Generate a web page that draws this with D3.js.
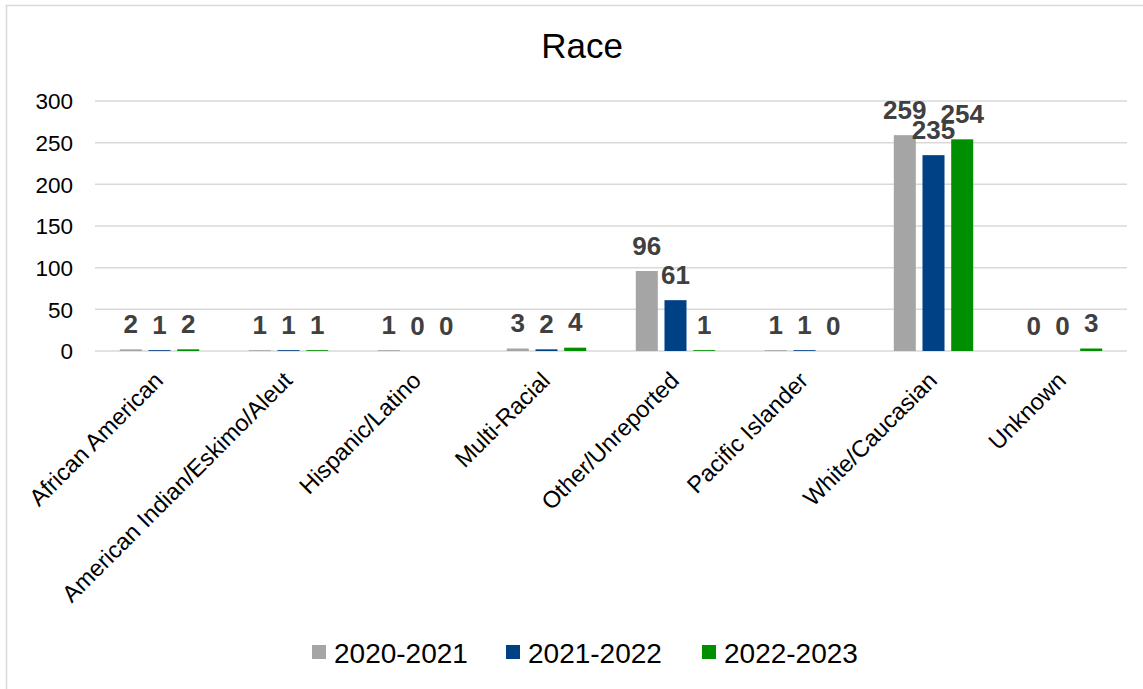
<!DOCTYPE html>
<html>
<head>
<meta charset="utf-8">
<script src="https://cdn.jsdelivr.net/npm/d3@7"></script>
<style>
  body { margin: 0; background: #fff; }
  svg { display: block; font-family: "Liberation Sans", Arial, sans-serif; }
</style>
</head>
<body>
<svg></svg>
<script>
// Chart data
const categories = ["African American", "American Indian/Eskimo/Aleut", "Hispanic/Latino", "Multi-Racial",
  "Other/Unreported", "Pacific Islander", "White/Caucasian", "Unknown"];
const series = ["2020-2021", "2021-2022", "2022-2023"];
const values2020 = [2, 1, 1, 3, 96, 1, 259, 0];
const values2021 = [1, 1, 0, 2, 61, 1, 235, 0];
const values2022 = [2, 1, 0, 4, 1, 0, 254, 3];
const yTicks = [0, 50, 100, 150, 200, 250, 300];
const colors = ["#a5a5a5", "#004185", "#008f00"];

const seriesValues = [values2020, values2021, values2022];

const width = 1143;
const height = 689;

const svg = d3.select("svg")
  .attr("width", width)
  .attr("height", height);

// Chart frame
svg.append("rect")
  .attr("x", 6.5).attr("y", 5.5)
  .attr("width", 1300).attr("height", 900)
  .attr("fill", "none")
  .attr("stroke", "#d9d9d9")
  .attr("stroke-width", 1.5);

// Title
svg.append("text")
  .attr("x", 582).attr("y", 58)
  .attr("text-anchor", "middle")
  .attr("font-size", 35)
  .attr("fill", "#000")
  .text("Race");

// Scales
const x0 = d3.scaleBand()
  .domain(categories)
  .range([95, 1127]);

const x1 = d3.scaleBand()
  .domain(series)
  .range([0, x0.bandwidth()])
  .paddingInner(0.233)
  .paddingOuter(0.864);

const y = d3.scaleLinear()
  .domain([0, 300])
  .range([351, 101]);

// Gridlines
svg.append("g")
  .selectAll("line")
  .data(yTicks)
  .enter()
  .append("line")
  .attr("x1", 95).attr("x2", 1127)
  .attr("y1", d => y(d)).attr("y2", d => y(d))
  .attr("stroke", "#d9d9d9")
  .attr("stroke-width", 1.5);

// Y axis labels
const yAxis = d3.axisLeft(y).tickValues(yTicks).tickSize(0).tickPadding(0);
svg.append("g")
  .attr("transform", "translate(73,0)")
  .call(yAxis)
  .call(g => g.select(".domain").remove())
  .selectAll("text")
  .attr("font-size", 22.5)
  .attr("font-family", "Liberation Sans, Arial, sans-serif")
  .attr("fill", "#000")
  .attr("dy", "0.35em");

// Bars and labels
const rows = categories.map((c, i) => ({
  category: c,
  items: series.map((s, j) => ({ series: s, value: seriesValues[j][i], color: colors[j] }))
}));

const groups = svg.append("g")
  .selectAll("g")
  .data(rows)
  .enter()
  .append("g")
  .attr("transform", d => `translate(${x0(d.category)},0)`);

groups.selectAll("rect")
  .data(d => d.items)
  .enter()
  .append("rect")
  .attr("x", d => x1(d.series))
  .attr("width", x1.bandwidth())
  .attr("y", d => y(d.value))
  .attr("height", d => y(0) - y(d.value))
  .attr("fill", d => d.color);

groups.selectAll("text")
  .data(d => d.items)
  .enter()
  .append("text")
  .attr("x", d => x1(d.series) + x1.bandwidth() / 2)
  .attr("y", d => y(d.value) - 16.5)
  .attr("text-anchor", "middle")
  .attr("font-size", 26)
  .attr("font-weight", "bold")
  .attr("fill", "#404040")
  .text(d => d.value);

// X axis labels (rotated)
svg.append("g")
  .selectAll("text")
  .data(categories)
  .enter()
  .append("text")
  .attr("transform", d => `translate(${x0(d) + x0.bandwidth() / 2 + 5},382) rotate(-45)`)
  .attr("text-anchor", "end")
  .attr("font-size", 23.5)
  .attr("fill", "#000")
  .text(d => d);

// Legend
const legendX = [312, 506, 702];
const legend = svg.append("g")
  .selectAll("g")
  .data(series)
  .enter()
  .append("g")
  .attr("transform", (d, i) => `translate(${legendX[i]},0)`);

legend.append("rect")
  .attr("x", 0).attr("y", 645)
  .attr("width", 14).attr("height", 14)
  .attr("fill", (d, i) => colors[i]);

legend.append("text")
  .attr("x", 22).attr("y", 663)
  .attr("font-size", 28)
  .attr("fill", "#000")
  .text(d => d);
</script>
</body>
</html>
